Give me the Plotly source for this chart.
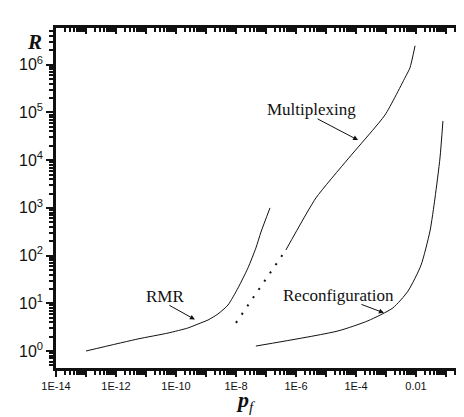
import plotly.graph_objects as go

# ---- data ----
rmr_p = [1e-13, 5.4e-12, 5.4e-11, 2.5e-10, 5.4e-10, 1.17e-9, 2.5e-9, 5.4e-9, 1.17e-8, 2.5e-8, 4.6e-8, 6.8e-8, 1.36e-7]
rmr_R = [1.0, 1.79, 2.38, 3.04, 3.68, 4.47, 5.97, 9.2, 21, 55, 144, 312, 1000]

gap_p = [1e-8, 4.6e-7]
gap_R = [3.9, 131]

mux_p = [4.6e-7, 4.6e-6, 5.4e-5, 9.3e-4, 4.6e-3, 6.3e-3, 9.3e-3]
mux_R = [131, 1610, 10600, 88700, 5.8e5, 8.6e5, 2.5e6]

rec_p = [4.6e-8, 2.5e-5, 2.5e-4, 1.7e-3, 5.4e-3, 0.0147, 0.0293, 0.043, 0.063, 0.079]
rec_R = [1.27, 2.63, 4.3, 8.0, 18, 63, 328, 1610, 11100, 66000]

x_exps = list(range(-14, 0))
x_tickvals = [10.0 ** e for e in x_exps]
x_ticktext = ["1E-14", " ", "1E-12", " ", "1E-10", " ", "1E-8", " ", "1E-6", " ", "1E-4", " ", "0.01", " "]
y_exps = list(range(0, 7))
y_tickvals = [10.0 ** e for e in y_exps]
y_ticktext = ["10<sup>%d</sup>" % e for e in y_exps]

x_minor = [m * 10.0 ** e for e in range(-15, 0) for m in range(2, 10)]
y_minor = [m * 10.0 ** e for e in range(-1, 7) for m in range(2, 10)]

XR = [-14, -0.2]
YR = [-0.356, 6.77]

INK = "#111111"
fig = go.Figure()
line = dict(color=INK, width=1)
fig.add_trace(go.Scatter(x=rmr_p, y=rmr_R, mode="lines", line=dict(**line, shape="spline", smoothing=0.6)))
fig.add_trace(go.Scatter(x=gap_p, y=gap_R, mode="lines", line=dict(color=INK, width=2, dash="2px,8px")))
fig.add_trace(go.Scatter(x=mux_p, y=mux_R, mode="lines", line=dict(**line, shape="spline", smoothing=0.5)))
fig.add_trace(go.Scatter(x=rec_p, y=rec_R, mode="lines", line=dict(**line, shape="spline", smoothing=0.6)))
# invisible trace to activate the mirror axes
fig.add_trace(go.Scatter(x=[1e-10], y=[10], xaxis="x2", yaxis="y2", mode="markers",
                         marker=dict(opacity=0), hoverinfo="skip"))

tickfont = dict(family="Liberation Sans, Arial, sans-serif", color=INK)
axis_common = dict(type="log", showgrid=False, zeroline=False, showline=True, automargin=False,
                   linecolor=INK, linewidth=2.5, tickcolor=INK, tickwidth=2)

def minor(vals, side):
    return dict(tickmode="array", tickvals=vals, ticks=side, ticklen=4, tickcolor=INK, tickwidth=1.5,
                showgrid=False)

fig.update_layout(
    width=464, height=417,
    margin=dict(l=48, r=2, t=20, b=57),
    paper_bgcolor="white", plot_bgcolor="white",
    showlegend=False,
    xaxis=dict(**axis_common, range=XR, tickmode="array", tickvals=x_tickvals, ticktext=x_ticktext,
               ticks="outside", ticklen=6, tickfont=dict(**tickfont, size=11),
               minor=minor(x_minor, "outside")),
    yaxis=dict(**axis_common, range=YR, tickmode="array", tickvals=y_tickvals, ticktext=y_ticktext,
               ticks="outside", ticklen=7, tickfont=dict(**tickfont, size=16),
               minor=minor(y_minor, "outside")),
    xaxis2=dict(**axis_common, range=XR, overlaying="x", side="top", anchor="y",
                tickmode="array", tickvals=x_tickvals, showticklabels=False,
                ticks="inside", ticklen=6, minor=minor(x_minor, "inside")),
    yaxis2=dict(**axis_common, range=YR, overlaying="y", side="right", anchor="x",
                tickmode="array", tickvals=y_tickvals, showticklabels=False,
                ticks="inside", ticklen=7, minor=minor(y_minor, "inside")),
)

serif = "Liberation Serif, Times New Roman, serif"
ann = []
ann.append(dict(text="RMR", x=-10.37, y=1.153, xref="x", yref="y", showarrow=False,
                font=dict(family=serif, size=17, color=INK)))
ann.append(dict(text="", x=-9.37, y=0.66, xref="x", yref="y", showarrow=True,
                ax=-27, ay=-15, arrowhead=2, arrowsize=1, arrowwidth=1, arrowcolor=INK))
ann.append(dict(text="Multiplexing", x=-5.47, y=5.07, xref="x", yref="y", showarrow=False,
                font=dict(family=serif, size=17, color=INK)))
ann.append(dict(text="", x=-3.93, y=4.42, xref="x", yref="y", showarrow=True,
                ax=-42, ay=-22, arrowhead=2, arrowsize=1, arrowwidth=1, arrowcolor=INK))
ann.append(dict(text="Reconfiguration", x=-4.6, y=1.17, xref="x", yref="y", showarrow=False,
                font=dict(family=serif, size=17, color=INK)))
ann.append(dict(text="", x=-3.07, y=0.80, xref="x", yref="y", showarrow=True,
                ax=-24, ay=-9, arrowhead=2, arrowsize=1, arrowwidth=1, arrowcolor=INK))
ann.append(dict(text="<b><i>R</i></b>", x=-0.075, y=1.0, xref="paper", yref="paper",
                showarrow=False, font=dict(family=serif, size=21, color=INK)))
ann.append(dict(text="<b><i>p</i></b><sub><i>f</i></sub>", x=0.46, y=-0.145, xref="paper", yref="paper",
                showarrow=False, font=dict(family=serif, size=22, color=INK)))
fig.update_layout(annotations=ann)

fig.write_html("out.html")
